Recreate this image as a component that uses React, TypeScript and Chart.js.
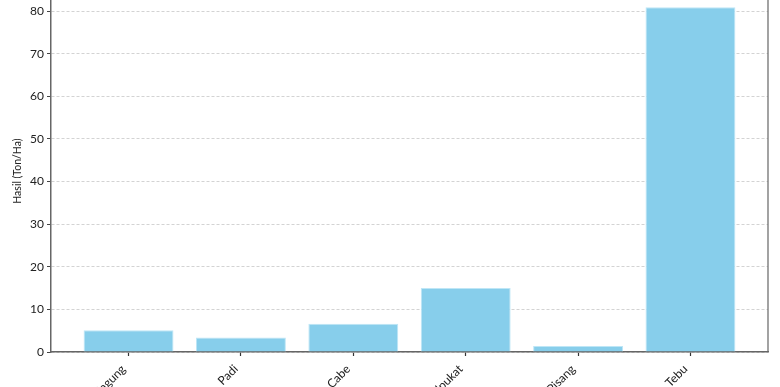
import React, { useEffect, useRef } from "react";
import { Chart, registerables } from "chart.js";

Chart.register(...registerables);

const categories = ["Jagung", "Padi", "Cabe", "Alpukat", "Pisang", "Tebu"];
const yields = [5.1, 3.4, 6.6, 15.0, 1.4, 80.9];
const yTicks = [0, 10, 20, 30, 40, 50, 60, 70, 80];
const yTitle = "Hasil (Ton/Ha)";

const FONT = "Lato, 'Open Sans', sans-serif";

const spinePlugin = {
  id: "spines",
  afterDraw(chart: any) {
    const { ctx, chartArea } = chart;
    ctx.save();
    ctx.strokeStyle = "#666666";
    ctx.lineWidth = 1.2;
    ctx.beginPath();
    ctx.moveTo(chartArea.right, chartArea.top);
    ctx.lineTo(chartArea.right, chartArea.bottom);
    ctx.moveTo(chartArea.left, chartArea.top);
    ctx.lineTo(chartArea.right, chartArea.top);
    ctx.stroke();
    ctx.restore();
  },
};

export default function App() {
  const ref = useRef<HTMLCanvasElement | null>(null);

  useEffect(() => {
    if (!ref.current) return;
    const chart = new Chart(ref.current, {
      type: "bar",
      data: {
        datasets: [
          {
            data: categories.map((c, i) => ({ x: i, y: yields[i] })),
            backgroundColor: "#87CEEB",
            borderColor: "rgba(190,230,246,1)",
            borderWidth: 1,
            barPercentage: 0.8,
            categoryPercentage: 1,
          },
        ],
      },
      options: {
        animation: false,
        responsive: true,
        maintainAspectRatio: false,
        layout: { padding: { top: 9, right: 12, left: 11, bottom: 0 } },
        plugins: { legend: { display: false }, tooltip: { enabled: false } },
        scales: {
          x: {
            type: "linear",
            offset: false,
            min: -0.69,
            max: 5.69,
            afterBuildTicks: (axis: any) => {
              axis.ticks = categories.map((_, i) => ({ value: i }));
            },
            afterFit: (scale: any) => {
              scale.height = 35;
            },
            ticks: {
              includeBounds: false,
              autoSkip: false,
              maxRotation: 45,
              minRotation: 45,
              color: "#222",
              padding: 6,
              labelOffset: -5,
              font: { family: FONT, size: 12 },
              callback: (v: any) => categories[Math.round(Number(v))] ?? "",
            },
            grid: {
              offset: false,
              drawOnChartArea: false,
              drawTicks: true,
              tickColor: "#333",
              tickLength: 4,
              tickWidth: 1.2,
            },
            border: { color: "#666666", width: 1.5 },
          },
          y: {
            min: 0,
            max: 84.9,
            afterBuildTicks: (axis: any) => {
              axis.ticks = yTicks.map((v) => ({ value: v }));
            },
            afterFit: (scale: any) => {
              scale.width = 40;
            },
            ticks: {
              includeBounds: false,
              color: "#222",
              padding: 3,
              font: { family: FONT, size: 12 },
            },
            title: {
              display: true,
              text: yTitle,
              color: "#222",
              font: { family: FONT, size: 10.5 },
              padding: { top: 0, bottom: 4 },
            },
            grid: {
              color: "rgba(200,200,200,1)",
              lineWidth: 0.8,
              tickColor: "#444",
              tickBorderDash: [],
              tickLength: 4,
              tickWidth: 1,
            },
            border: { color: "#666666", width: 1.5, dash: [3, 2] },
          },
        },
      },
      plugins: [spinePlugin],
    });
    return () => chart.destroy();
  }, []);

  return (
    <div style={{ position: "fixed", left: 0, top: -20, width: 780, height: 407, background: "#fff" }}>
      <canvas ref={ref} />
    </div>
  );
}
